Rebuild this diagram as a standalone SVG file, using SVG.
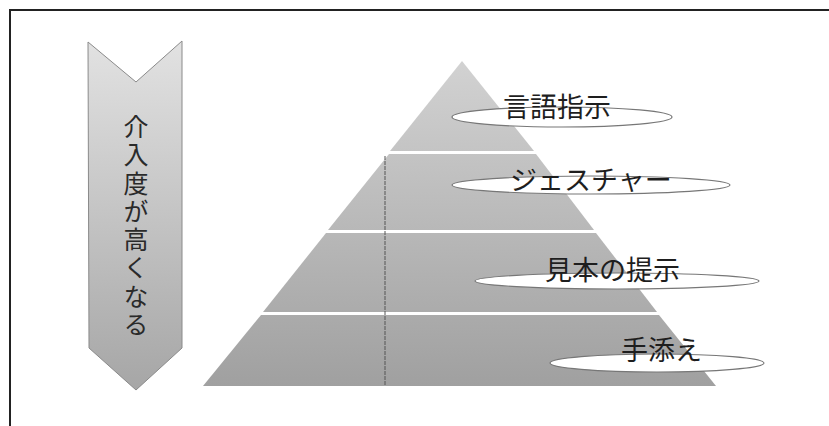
<svg xmlns="http://www.w3.org/2000/svg" width="829" height="426" viewBox="0 0 829 426">
  <defs>
    <linearGradient id="gArrow" x1="0" y1="0" x2="0" y2="1">
      <stop offset="0" stop-color="#e2e2e2"/>
      <stop offset="1" stop-color="#a6a6a6"/>
    </linearGradient>
    <linearGradient id="gPyr" x1="0" y1="61" x2="0" y2="386" gradientUnits="userSpaceOnUse">
      <stop offset="0" stop-color="#d2d2d2"/>
      <stop offset="1" stop-color="#a0a0a0"/>
    </linearGradient>
  </defs>
  <style>
    .lbl { font-family: "Noto Sans CJK JP", "Noto Sans", sans-serif; font-size: 27px; fill: #1e1e1e; }
    .vt { font-family: "Noto Sans CJK JP", "Noto Sans", sans-serif; font-size: 25px; fill: #2a2a2a; writing-mode: vertical-rl; letter-spacing: 3.3px; }
    .band { fill: url(#gPyr); }
    .oval { fill: #ffffff; stroke: #777777; stroke-width: 1.2; }
  </style>
  <rect x="0" y="0" width="829" height="426" fill="#ffffff"/>
  <!-- frame -->
  <path d="M10,426 V10 H829" fill="none" stroke="#222222" stroke-width="2"/>

  <!-- arrow -->
  <g id="arrow">
    <polygon points="88,42 136,82 182,41 182,348 136,390 89,348" fill="url(#gArrow)" stroke="#8a8a8a" stroke-width="1"/>
    <text class="vt" x="136" y="114">介入度が高くなる</text>
  </g>

  <!-- pyramid bands -->
  <g id="pyramid">
    <polygon class="band" points="462,61 534,151 390,151"/>
    <polygon class="band" points="389,154 536,154 594,230 328,230"/>
    <polygon class="band" points="326,233 596,233 657,312 263,312"/>
    <polygon class="band" points="261,315 659,315 716,386 203,386"/>
    <line x1="385" y1="156" x2="385" y2="386" stroke="#555555" stroke-width="1" stroke-dasharray="4,1"/>
  </g>

  <g id="level1">
    <ellipse class="oval" cx="562" cy="117" rx="110" ry="10"/>
    <text class="lbl" x="503" y="117">言語指示</text>
  </g>
  <g id="level2">
    <ellipse class="oval" cx="591" cy="185" rx="139" ry="9"/>
    <text class="lbl" x="510" y="190">ジェスチャー</text>
  </g>
  <g id="level3">
    <ellipse class="oval" cx="617" cy="281" rx="142" ry="8"/>
    <text class="lbl" x="545" y="280">見本の提示</text>
  </g>
  <g id="level4">
    <ellipse class="oval" cx="657" cy="363" rx="107" ry="9"/>
    <text class="lbl" x="621" y="360">手添え</text>
  </g>
</svg>
